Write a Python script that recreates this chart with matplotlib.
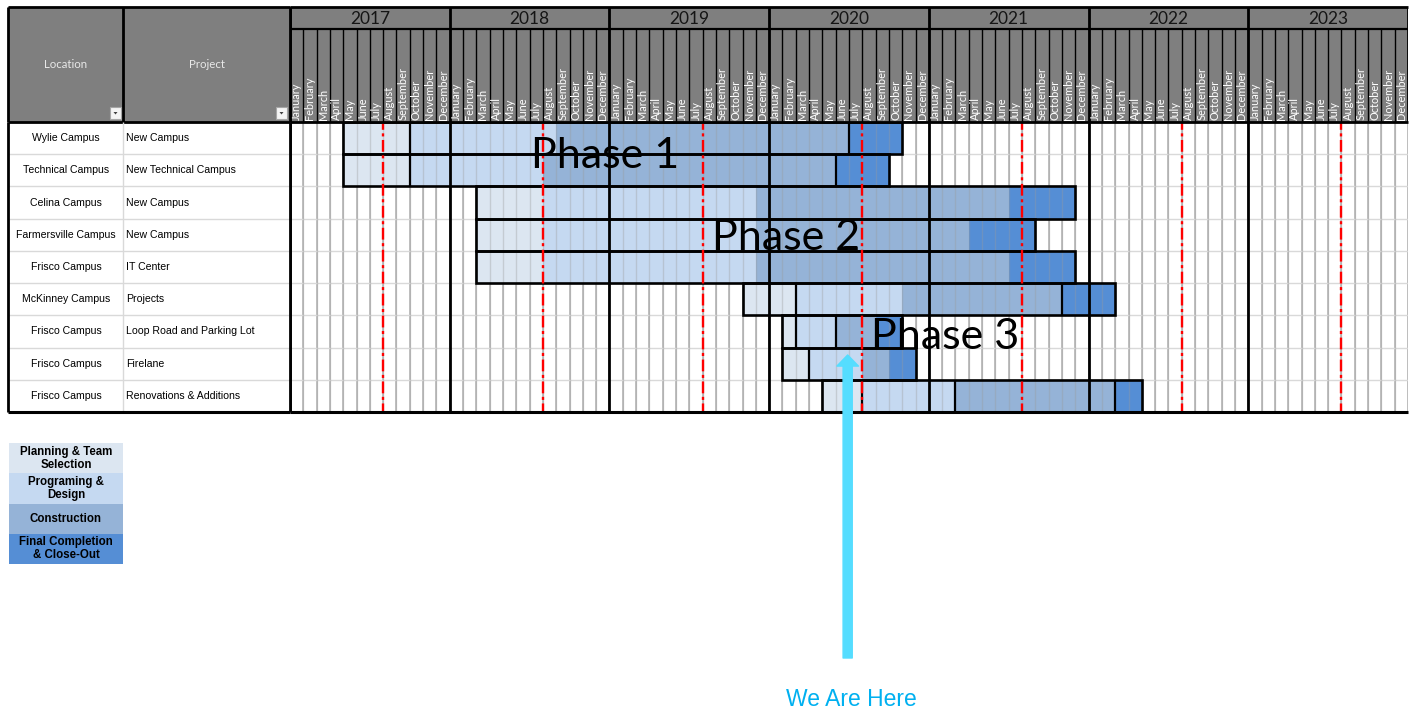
import matplotlib
matplotlib.use("Agg")
import matplotlib.pyplot as plt
from matplotlib.patches import Rectangle, Polygon
import numpy as np

# ---------------- data ----------------
locations = ["Wylie Campus", "Technical Campus", "Celina Campus", "Farmersville Campus",
             "Frisco Campus", "McKinney Campus", "Frisco Campus", "Frisco Campus", "Frisco Campus"]
projects = ["New Campus", "New Technical Campus", "New Campus", "New Campus", "IT Center",
            "Projects", "Loop Road and Parking Lot", "Firelane", "Renovations & Additions"]
years = [2017, 2018, 2019, 2020, 2021, 2022, 2023]
months = ["January", "February", "March", "April", "May", "June", "July", "August",
          "September", "October", "November", "December"]
# month index from January 2017 (0)
planning_start = [4, 4, 14, 14, 14, 34, 37, 37, 40]
programming_start = [9, 9, 19, 19, 19, 38, 38, 39, 43]
construction_start = [20, 19, 35, 35, 35, 46, 41, 43, 50]
final_start = [42, 41, 54, 51, 54, 58, 44, 45, 62]
project_end = [46, 45, 59, 56, 59, 62, 46, 47, 64]
# phase boundaries drawn with a black cell border in the sheet
bordered_boundaries = [[9, 42], [9, 41], [], [], [], [38, 58], [38, 41], [39], [43, 50, 62]]
phase_names = ["Planning & Team\nSelection", "Programing &\nDesign", "Construction",
               "Final Completion\n& Close-Out"]
phase_colors = ["#DCE6F1", "#C5D9F1", "#95B3D7", "#558ED5"]
milestone_month = 7          # August of each year (red dash-dot markers)
we_are_here = 41.9           # current position (mid 2020)
phase_labels = ["Phase 1", "Phase 2", "Phase 3"]
phase_label_pos = [(23.7, 1.43), (37.3, 3.97), (49.25, 7.05)]

W, H = 1413, 717
fig = plt.figure(figsize=(W / 100, H / 100), dpi=100)
fig.patch.set_facecolor("white")


def px_axes(x0, y0, x1, y1):
    a = fig.add_axes([x0 / W, 1 - y1 / H, (x1 - x0) / W, (y1 - y0) / H])
    a.axis("off")
    return a


n_rows = len(locations)
n_months = 12 * len(years)
HEAD_FONT = ["Lato", "DejaVu Sans"]
BODY_FONT = ["Liberation Sans", "DejaVu Sans"]

# ---------------- gantt body ----------------
ax = px_axes(290, 122, 1408, 412)
ax.set_xlim(0, n_months)
ax.set_ylim(n_rows, 0)

ax.vlines(np.arange(1, n_months + 1), 0, n_rows, color="#C0C0C0", lw=1.4, zorder=1)
ax.hlines(np.arange(1, n_rows), 0, n_months, color="#D9D9D9", lw=1.0, zorder=1)

starts = [planning_start, programming_start, construction_start, final_start, project_end]
for i in range(n_rows):
    for p in range(4):
        s, e = starts[p][i], starts[p + 1][i]
        ax.barh(i + 0.5, e - s, left=s, height=1.0, color=phase_colors[p], lw=0, zorder=2)
    ax.add_patch(Rectangle((planning_start[i], i), project_end[i] - planning_start[i], 1,
                           fill=False, ec="black", lw=1.9, zorder=7))
    if bordered_boundaries[i]:
        ax.vlines(bordered_boundaries[i], i, i + 1, color="black", lw=1.6, zorder=7)

ax.vlines(np.arange(1, n_months + 1), 0, n_rows, color="#9A9A9A", lw=1.0, alpha=0.35, zorder=3)
ax.vlines(np.arange(0, n_months, 12), 0, n_rows, color="black", lw=2.0, zorder=6)
ax.vlines([milestone_month + 12 * k for k in range(len(years))], -0.12, n_rows,
          color="red", lw=1.7, linestyles=[(0, (5, 1.5, 1.3, 1.5))], zorder=8, clip_on=False)
ax.hlines(n_rows, 0, n_months, color="black", lw=2.2, zorder=9, clip_on=False)

for lab, (mx, ry) in zip(phase_labels, phase_label_pos):
    ax.text(mx, ry, lab, ha="center", va="baseline", fontsize=31, family=HEAD_FONT,
            color="black", zorder=12)

# ---------------- month/year header ----------------
axh = px_axes(290, 7, 1408, 122)
axh.set_xlim(0, n_months)
axh.set_ylim(115, 0)
axh.add_patch(Rectangle((0, 0), n_months, 115, color="#7F7F7F", zorder=0))
axh.hlines(22, 0, n_months, color="black", lw=1.6, zorder=3)
axh.vlines(np.arange(1, n_months), 22, 115, color="black", lw=1.0, zorder=2)
axh.vlines(np.arange(0, n_months + 1, 12), 0, 115, color="black", lw=2.0, zorder=3)
axh.hlines([0, 115], 0, n_months, color="black", lw=2.0, zorder=3, clip_on=False)
for k, y in enumerate(years):
    axh.text(12 * k + 6, 11.5, str(y), ha="center", va="center", fontsize=12.5,
             family=HEAD_FONT, color="#151515")
    for m, name in enumerate(months):
        axh.text(12 * k + m + 0.5, 113, name, rotation=90, ha="center", va="bottom",
                 fontsize=7.9, family=HEAD_FONT, color="white")

# ---------------- left table header ----------------
axl = px_axes(8, 7, 290, 122)
axl.set_xlim(8, 290)
axl.set_ylim(122, 7)
axl.add_patch(Rectangle((8, 7), 282, 115, color="#7F7F7F", zorder=0))
axl.vlines([8, 123, 290], 7, 122, color="black", lw=2.0, zorder=3, clip_on=False)
axl.hlines([7, 122], 8, 290, color="black", lw=2.0, zorder=3, clip_on=False)
axl.text(66, 64, "Location", ha="center", va="center", fontsize=8.3, family=HEAD_FONT, color="#E8E8E8")
axl.text(207, 64, "Project", ha="center", va="center", fontsize=8.3, family=HEAD_FONT, color="#E8E8E8")
for bx in (110, 276):
    axl.add_patch(Rectangle((bx, 107), 11, 12, fc="#F4F4F4", ec="#A6A6A6", lw=0.8, zorder=4))
    axl.add_patch(Polygon([(bx + 3.5, 112), (bx + 7.5, 112), (bx + 5.5, 114.5)],
                          closed=True, fc="#404040", ec="none", zorder=5))

# ---------------- left table body ----------------
axt = px_axes(8, 122, 290, 412)
axt.set_xlim(8, 290)
axt.set_ylim(n_rows, 0)
axt.hlines(np.arange(1, n_rows), 8, 290, color="#D9D9D9", lw=1.0)
axt.vlines(123, 0, n_rows, color="#D9D9D9", lw=1.0)
axt.vlines([8, 290], 0, n_rows, color="black", lw=2.0, clip_on=False)
axt.hlines(n_rows, 8, 290, color="black", lw=2.2, clip_on=False)
for i in range(n_rows):
    axt.text(66, i + 0.5, locations[i], ha="center", va="center", fontsize=7.6,
             family=BODY_FONT, color="black")
    axt.text(126, i + 0.5, projects[i], ha="left", va="center", fontsize=7.6,
             family=BODY_FONT, color="black")

# ---------------- legend ----------------
axg = px_axes(9, 443, 123, 564)
axg.set_xlim(0, 1)
axg.set_ylim(len(phase_names), 0)
for i, (name, col) in enumerate(zip(phase_names, phase_colors)):
    axg.add_patch(Rectangle((0, i), 1, 1, color=col, lw=0))
    axg.text(0.5, i + 0.5, name, ha="center", va="center", fontsize=8.3, fontweight="bold",
             family=BODY_FONT, color="black", linespacing=1.1)

# ---------------- "We Are Here" arrow ----------------
ax.annotate("", xy=(we_are_here, 7.23), xycoords="data",
            xytext=(we_are_here, 1 - 658 / H), textcoords=("data", "figure fraction"),
            arrowprops=dict(arrowstyle="simple,head_length=0.8,head_width=1.55,tail_width=0.66",
                            color="#55DDFF", shrinkA=0, shrinkB=0, mutation_scale=10),
            annotation_clip=False, zorder=15)
fig.text(851 / W, 1 - 699 / H, "We Are Here", ha="center", va="center", fontsize=16.5,
         family=BODY_FONT, color="#00B0F0")

fig.savefig("out.png", dpi=100, facecolor="white")
